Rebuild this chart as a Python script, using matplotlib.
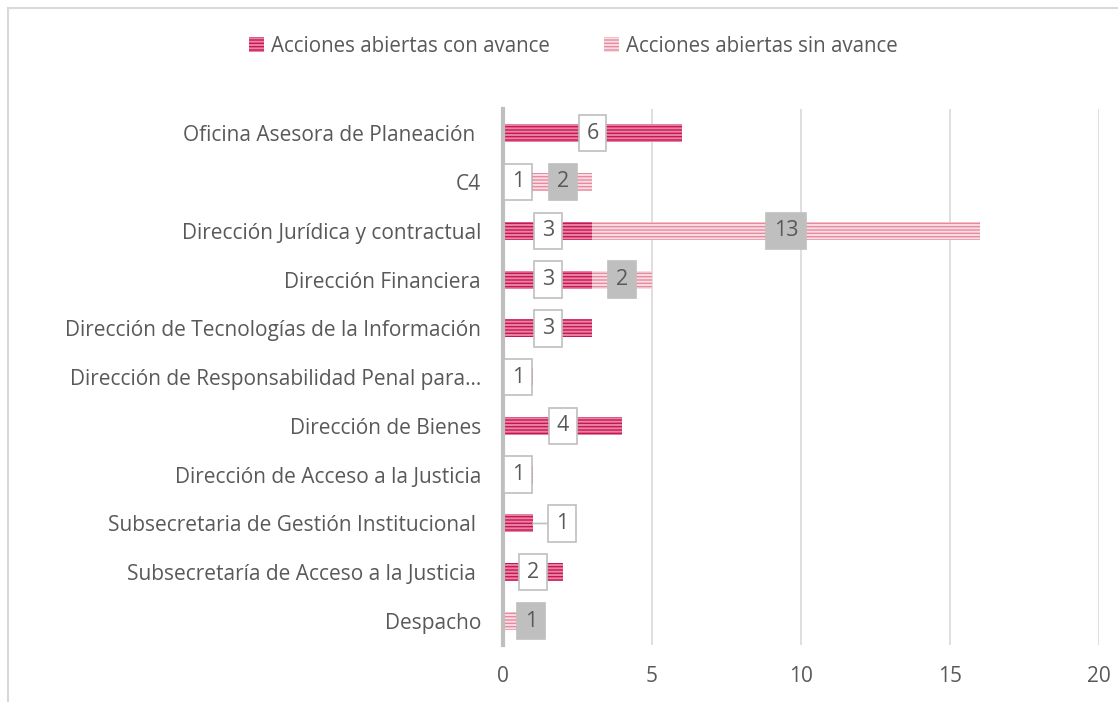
import matplotlib
matplotlib.use("Agg")
import matplotlib.pyplot as plt
from matplotlib.lines import Line2D
from matplotlib.patches import Patch

categories = [
    "Oficina Asesora de Planeación ",
    "C4",
    "Dirección Jurídica y contractual",
    "Dirección Financiera",
    "Dirección de Tecnologías de la Información",
    "Dirección de Responsabilidad Penal para...",
    "Dirección de Bienes",
    "Dirección de Acceso a la Justicia",
    "Subsecretaria de Gestión Institucional ",
    "Subsecretaría de Acceso a la Justicia ",
    "Despacho",
]
con_avance = [6, 1, 3, 3, 3, 1, 4, 1, 1, 2, 0]
sin_avance = [0, 2, 13, 2, 0, 0, 0, 0, 0, 0, 1]
series_names = ["Acciones abiertas con avance", "Acciones abiertas sin avance"]
xticks = [0, 5, 10, 15, 20]

plt.rcParams['font.family'] = ['Open Sans', 'DejaVu Sans']
plt.rcParams['hatch.linewidth'] = 1.4

fig = plt.figure(figsize=(11.18, 7.02), dpi=100)
ax = fig.add_axes([0.45, 0.0806, 0.533, 0.7644])

C_DARK = '#C8145A'
C_DARK_H = '#E8849F'
C_LIGHT = '#E68A9E'
C_LIGHT_H = '#FADDE4'
TXT = '#595959'

n = len(categories)
ypos = list(range(n))

ax.barh(ypos, con_avance, height=0.37, color=C_DARK, edgecolor=C_DARK_H,
        linewidth=0, hatch='-----', zorder=3)
ax.barh(ypos, sin_avance, left=con_avance, height=0.37, color=C_LIGHT,
        edgecolor=C_LIGHT_H, linewidth=0, hatch='-----', zorder=3)

ax.set_ylim(n - 0.5, -0.5)
ax.set_xlim(0, 20)
ax.set_xticks(xticks)
ax.set_yticks(ypos)
ax.set_yticklabels(categories, fontsize=15, color=TXT)
ax.tick_params(axis='x', labelsize=15, colors=TXT, length=0, pad=15)
ax.tick_params(axis='y', length=0, pad=16)
for s in ['top', 'right', 'bottom']:
    ax.spines[s].set_visible(False)
ax.spines['left'].set_color('#BFBFBF')
ax.spines['left'].set_linewidth(3)
ax.spines['left'].set_zorder(5)
ax.grid(axis='x', color='#D9D9D9', linewidth=1.2, zorder=0)
ax.set_axisbelow(True)

# label offsets (pixels) for a few crowded labels
offsets_con = {8: (44, 0)}
offsets_sin = {10: (13, 0)}
px = 0.72
for i in range(n):
    v = con_avance[i]
    if v > 0:
        if i in offsets_con:
            dx, dy = offsets_con[i]
            ax.annotate(str(v), xy=(v, i), xytext=((dx - 15) * px, dy * px),
                        textcoords='offset points', ha='center', va='center',
                        fontsize=15.5, color=TXT, zorder=6,
                        bbox=dict(boxstyle='square,pad=0.36', fc='white',
                                  ec='#BFBFBF', lw=1.2),
                        arrowprops=dict(arrowstyle='-', color='#BFBFBF', lw=1.2,
                                        shrinkA=0, shrinkB=0))
        else:
            ax.annotate(str(v), xy=(v / 2, i), xytext=(0, 0),
                        textcoords='offset points', ha='center', va='center',
                        fontsize=15.5, color=TXT, zorder=6,
                        bbox=dict(boxstyle='square,pad=0.36', fc='white',
                                  ec='#BFBFBF', lw=1.2))
    v2 = sin_avance[i]
    if v2 > 0:
        dx, dy = offsets_sin.get(i, (0, 0))
        ax.annotate(str(v2), xy=(con_avance[i] + v2 / 2, i), xytext=(dx * px, dy * px),
                    textcoords='offset points', ha='center', va='center',
                    fontsize=15.5, color=TXT, zorder=6,
                    bbox=dict(boxstyle='square,pad=0.36', fc='#BFBFBF',
                              ec='#BFBFBF', lw=1.2))

handles = [Patch(facecolor=C_DARK, edgecolor=C_DARK_H, hatch='-----', linewidth=0),
           Patch(facecolor=C_LIGHT, edgecolor=C_LIGHT_H, hatch='-----', linewidth=0)]
fig.legend(handles, series_names, loc='center', bbox_to_anchor=(0.513, 0.934),
           ncol=2, frameon=False, fontsize=14.8, labelcolor=TXT,
           handlelength=0.75, handleheight=0.75, handletextpad=0.35, columnspacing=2.6)

# outer chart border (top and left edges visible)
W, H = 1118, 702
fig.add_artist(Line2D([8 / W, 1], [1 - 8 / H, 1 - 8 / H], color='#D9D9D9', lw=1.5,
                      transform=fig.transFigure))
fig.add_artist(Line2D([8 / W, 8 / W], [0, 1 - 8 / H], color='#D9D9D9', lw=1.5,
                      transform=fig.transFigure))

fig.savefig('out.png', dpi=100)
